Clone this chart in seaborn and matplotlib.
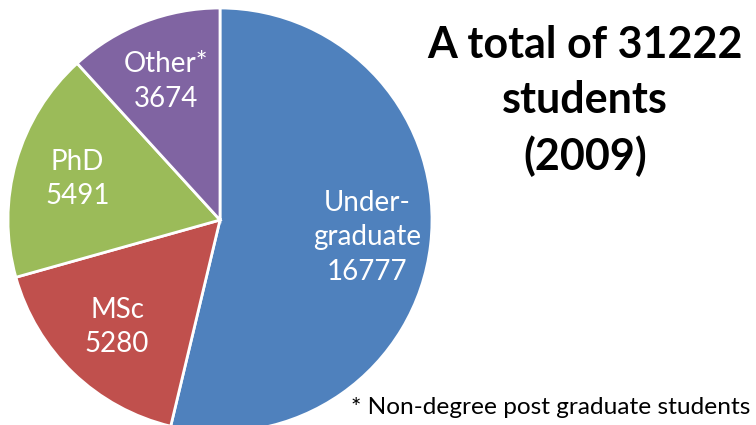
import matplotlib
matplotlib.use("Agg")
import matplotlib.pyplot as plt
import seaborn as sns

sns.set_theme(style="white")
plt.rcParams['font.family'] = ['Lato', 'DejaVu Sans']

categories = ["Under-\ngraduate", "MSc", "PhD", "Other*"]
values = [16777, 5280, 5491, 3674]
colors = ["#4F81BD", "#C0504D", "#9BBB59", "#8064A2"]
title_text = "A total of 31222\nstudents\n(2009)"
footnote = "* Non-degree post graduate students"

labels = [f"{c}\n{v}" for c, v in zip(categories, values)]

fig = plt.figure(figsize=(7.56, 4.25), dpi=100)
ax = fig.add_axes([8/756, -7/425, 424/756, 424/425])
wedges, texts = ax.pie(values, labels=labels, colors=colors, startangle=90,
                       counterclock=False, labeldistance=0.7,
                       wedgeprops=dict(edgecolor="white", linewidth=2),
                       textprops=dict(color="white", fontsize=20))
for t in texts:
    t.set_horizontalalignment("center")
    t.set_verticalalignment("center")
    t.set_multialignment("center")
    t.set_linespacing(1.4)
ax.set_aspect("equal")
ax.set_xlim(-1, 1)
ax.set_ylim(-1, 1)
ax.axis("off")

fig.text(585/756, 1 - 101/425, title_text, ha="center", va="center",
         fontsize=31, fontweight="bold", linespacing=1.45, color="black")
fig.text(750/756, 1 - 407/425, footnote, ha="right", va="center",
         fontsize=17.6, color="black")

fig.savefig("out.png", dpi=100)
